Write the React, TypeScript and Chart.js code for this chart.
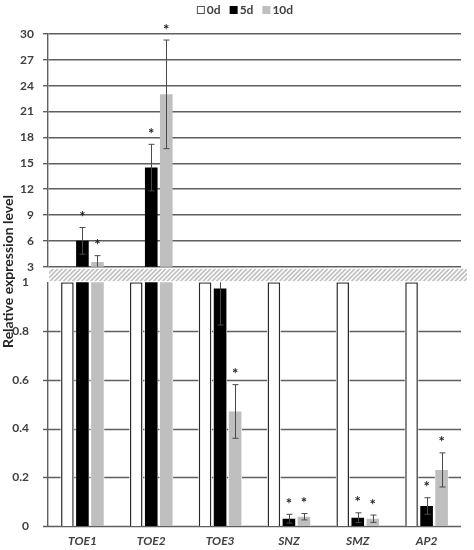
import React, { useEffect, useRef } from "react";
import { Chart, registerables } from "chart.js";

Chart.register(...registerables);

// ---------- data ----------
const categories = ["TOE1", "TOE2", "TOE3", "SNZ", "SMZ", "AP2"];
const seriesLabels = ["0d", "5d", "10d"];
const values0d = [1, 1, 1, 1, 1, 1];
const values5d = [6.0, 14.5, 0.975, 0.03, 0.034, 0.082];
const values10d = [3.55, 23.0, 0.47, 0.038, 0.03, 0.23];
const errors0d = [0, 0, 0, 0, 0, 0];
const errors5d = [1.55, 2.7, 0.15, 0.018, 0.02, 0.034];
const errors10d = [0.73, 6.3, 0.11, 0.013, 0.015, 0.07];
const signif0d = [false, false, false, false, false, false];
const signif5d = [true, true, false, true, true, true];
const signif10d = [true, true, true, true, true, true];
const upperTicks = [3, 6, 9, 12, 15, 18, 21, 24, 27, 30];
const lowerTicks = [0, 0.2, 0.4, 0.6, 0.8, 1];
const yTitle = "Relative expression level";

// ---------- styles ----------
const FONT = "Lato, 'DejaVu Sans', sans-serif";
const TEXT = "#404040";
const GRID = "#5f5f5f";
const FILLS = ["#ffffff", "#000000", "#bfbfbf"];
const BORDERS = ["#2a2a2a", "#000000", "#bfbfbf"];
const BORDER_W = [1.5, 0, 0];

const seriesValues = [values0d, values5d, values10d];
const seriesErrors = [errors0d, errors5d, errors10d];
const seriesSignif = [signif0d, signif5d, signif10d];

// hatched band marking the axis break
const bandPlugin = {
  id: "breakBand",
  afterDatasetsDraw(chart: any) {
    const { ctx, chartArea } = chart;
    const top = chart.scales.yTop.bottom + 2;
    const bottom = chart.scales.yBot.top - 1;
    const left = chartArea.left + 1;
    const right = chartArea.right + 6;
    ctx.save();
    ctx.beginPath();
    ctx.rect(left, top, right - left, bottom - top);
    ctx.clip();
    ctx.fillStyle = "#ffffff";
    ctx.fillRect(left, top, right - left, bottom - top);
    ctx.strokeStyle = "#c2c2c2";
    ctx.lineWidth = 1.8;
    const h = bottom - top;
    ctx.beginPath();
    for (let x = left - h; x < right + h; x += 4.5) {
      ctx.moveTo(x, bottom);
      ctx.lineTo(x + h, top);
    }
    ctx.stroke();
    ctx.restore();
  },
};

const errorBarPlugin = {
  id: "errorBars",
  afterDatasetsDraw(chart: any) {
    const { ctx, chartArea } = chart;
    chart.data.datasets.forEach((ds: any, di: number) => {
      const meta = chart.getDatasetMeta(di);
      const ys = meta.yScale;
      ds.data.forEach((v: number, i: number) => {
        const e = ds.errors[i];
        const bar = meta.data[i];
        if (!bar) return;
        const x = Math.round(bar.x) + 0.5;
        if (e) {
          const yHi = ys.getPixelForValue(v + e);
          const yLo = ys.getPixelForValue(v - e);
          ctx.save();
          ctx.beginPath();
          ctx.rect(chartArea.left, ys.top, chartArea.right - chartArea.left, ys.bottom - ys.top);
          ctx.clip();
          ctx.strokeStyle = "#4a4a4a";
          ctx.lineWidth = 1;
          ctx.beginPath();
          ctx.moveTo(x, yHi);
          ctx.lineTo(x, yLo);
          ctx.moveTo(x - 3, yHi);
          ctx.lineTo(x + 3, yHi);
          ctx.moveTo(x - 3, yLo);
          ctx.lineTo(x + 3, yLo);
          ctx.stroke();
          ctx.restore();
        }
        const topVal = v + (e || 0);
        if (ds.sig[i] && topVal <= ys.max && topVal >= ys.min) {
          const fs = 15;
          const cy = ys.getPixelForValue(topVal) - 14;
          ctx.save();
          ctx.fillStyle = "#262626";
          ctx.font = `bold ${fs}px ${FONT}`;
          ctx.textAlign = "center";
          ctx.textBaseline = "alphabetic";
          ctx.fillText("*", bar.x, cy + 0.57 * fs);
          ctx.restore();
        }
      });
    });
  },
};

const titleLegendPlugin = {
  id: "titleLegend",
  afterDraw(chart: any) {
    const { ctx } = chart;
    const cy = (chart.scales.yTop.bottom + chart.scales.yBot.top) / 2 - 3;
    ctx.save();
    ctx.translate(8.5, cy);
    ctx.rotate(-Math.PI / 2);
    ctx.fillStyle = "#262626";
    ctx.font = `bold 14px ${FONT}`;
    ctx.textAlign = "center";
    ctx.textBaseline = "middle";
    ctx.fillText(yTitle, 0, 0);
    ctx.restore();

    ctx.save();
    ctx.font = `bold 12px ${FONT}`;
    ctx.textBaseline = "middle";
    ctx.textAlign = "left";
    const box = 8, gap = 2, spacing = 9;
    const items = chart.data.datasets.slice(0, 3);
    const widths = items.map((d: any) => box + gap + ctx.measureText(d.label).width);
    const total = widths.reduce((a: number, b: number) => a + b, 0) + spacing * (items.length - 1);
    let x = 245 - total / 2;
    const y = 10;
    items.forEach((d: any, i: number) => {
      ctx.fillStyle = d.backgroundColor;
      ctx.fillRect(x, y - box / 2, box, box);
      if (d.borderWidth) {
        ctx.strokeStyle = "#555";
        ctx.lineWidth = 1;
        ctx.strokeRect(x + 0.5, y - box / 2 + 0.5, box - 1, box - 1);
      }
      ctx.fillStyle = TEXT;
      ctx.fillText(d.label, x + box + gap, y + 0.5);
      x += widths[i] + spacing;
    });
    ctx.restore();
  },
};

// lower-panel grid lines from the lower scale's ticks, kept out of the bars
const lowerGridPlugin = {
  id: "lowerGrid",
  afterDraw(chart: any) {
    const { ctx, chartArea } = chart;
    const s = chart.scales.yBot;
    if (!s) return;
    ctx.save();
    try {
      ctx.beginPath();
      ctx.rect(0, s.top - 2, chart.width, s.bottom - s.top + 4);
      chart.data.datasets.forEach((ds: any, di: number) => {
        const meta = chart.getDatasetMeta(di);
        if (!meta || meta.yScale !== s) return;
        meta.data.forEach((bar: any) => {
          if (!bar) return;
          const p = bar.getProps(["x", "y", "base", "width"], true);
          const l = p.x - p.width / 2 - 0.5;
          const w = p.width + 1;
          const t = Math.max(Math.min(p.y, p.base), s.top - 1);
          const b = Math.min(Math.max(p.y, p.base), s.bottom + 1);
          if (b > t && w > 0) ctx.rect(l, t, w, b - t);
        });
      });
      ctx.clip("evenodd");
      ctx.strokeStyle = GRID;
      ctx.lineWidth = 1.4;
      s.ticks.forEach((tk: any) => {
        if (tk.value >= s.max) return;
        const y = Math.round(s.getPixelForValue(tk.value)) + 0.5;
        ctx.beginPath();
        ctx.moveTo(chartArea.left - 5, y);
        ctx.lineTo(chartArea.right, y);
        ctx.stroke();
      });
    } catch (err) {
      // leave the chart as drawn
    } finally {
      ctx.restore();
    }
  },
};

export default function App() {
  const ref = useRef<HTMLCanvasElement | null>(null);

  useEffect(() => {
    if (!ref.current) return;
    const datasets: any[] = [];
    ["yTop", "yBot"].forEach((axis) => {
      seriesLabels.forEach((label, i) => {
        datasets.push({
          label,
          data: seriesValues[i],
          errors: seriesErrors[i],
          sig: seriesSignif[i],
          yAxisID: axis,
          stack: "g" + i,
          backgroundColor: FILLS[i],
          borderColor: BORDERS[i],
          borderWidth: BORDER_W[i],
          categoryPercentage: 0.655,
          barPercentage: 0.84,
        });
      });
    });

    const chart = new Chart(ref.current, {
      type: "bar",
      data: { labels: categories, datasets },
      plugins: [bandPlugin, errorBarPlugin, titleLegendPlugin, lowerGridPlugin],
      options: {
        responsive: false,
        animation: false,
        devicePixelRatio: 1,
        layout: { padding: { top: 34, right: 13, bottom: 0, left: 0 } },
        plugins: {
          legend: { display: false },
          tooltip: { enabled: false },
        },
        scales: {
          x: {
            type: "category",
            grid: { display: false, drawTicks: false },
            border: { display: false },
            ticks: {
              color: TEXT,
              padding: 8,
              font: { family: FONT, size: 12, weight: "bold", style: "italic" },
            },
            afterFit: (s: any) => {
              s.height = 24;
            },
          },
          yTop: {
            type: "linear",
            position: "left",
            stack: "v",
            stackWeight: 232.7,
            weight: 3,
            stacked: false,
            min: 3,
            max: 30,
            afterBuildTicks: (s: any) => {
              s.ticks = upperTicks.map((v) => ({ value: v }));
            },
            grid: { color: GRID, lineWidth: 1.4, tickLength: 5 },
            border: { display: true, color: GRID, width: 1.4 },
            ticks: {
              autoSkip: false,
              color: TEXT,
              padding: 9,
              font: { family: FONT, size: 12, weight: "bold" },
              callback: (v: any) => String(Number(v)),
            },
            afterFit: (s: any) => {
              s.width = 48;
            },
          },
          yGap: {
            type: "linear",
            position: "left",
            stack: "v",
            stackWeight: 15.6,
            weight: 2,
            display: true,
            grid: { display: false, drawTicks: false },
            border: { display: false },
            ticks: { display: false },
            afterFit: (s: any) => {
              s.width = 48;
            },
          },
          yBot: {
            type: "linear",
            position: "left",
            stack: "v",
            stackWeight: 243.7,
            weight: 1,
            stacked: false,
            min: 0,
            max: 1,
            afterBuildTicks: (s: any) => {
              s.ticks = lowerTicks.map((v) => ({ value: v }));
            },
            grid: { display: false, tickLength: 5 },
            border: { display: true, color: GRID, width: 1.4 },
            ticks: {
              autoSkip: false,
              color: TEXT,
              padding: 14,
              font: { family: FONT, size: 12, weight: "bold" },
              callback: (v: any) => String(Number(v)),
            },
            afterFit: (s: any) => {
              s.width = 48;
            },
          },
        },
      } as any,
    });
    return () => chart.destroy();
  }, []);

  return (
    <div style={{ position: "absolute", left: 0, top: 0, width: 474, height: 550, background: "#fff" }}>
      <canvas ref={ref} width={474} height={550} style={{ display: "block", width: 474, height: 550 }} />
    </div>
  );
}
